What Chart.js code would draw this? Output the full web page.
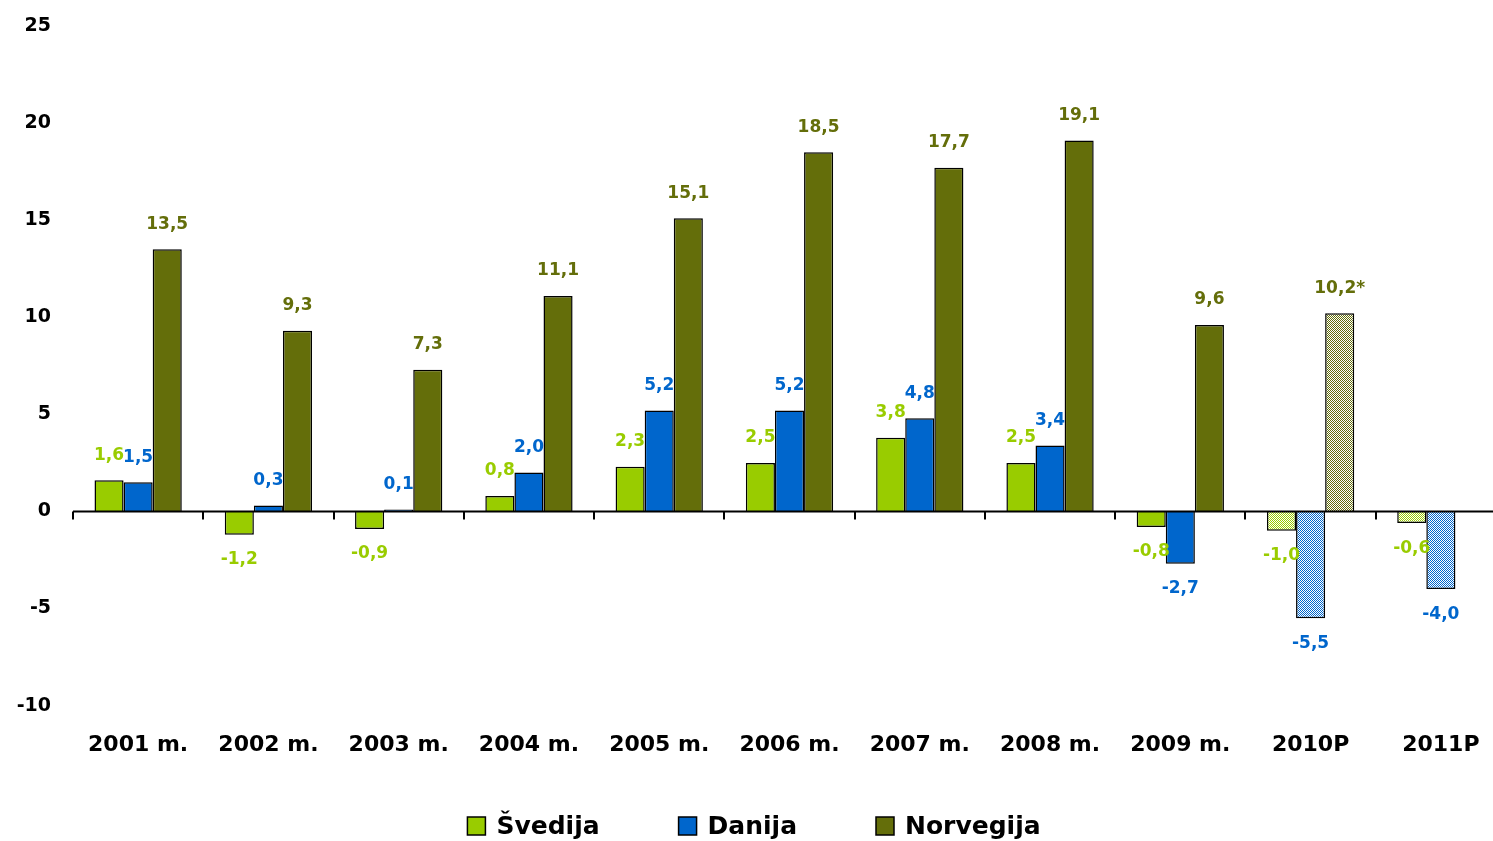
<!DOCTYPE html>
<html>
<head>
<meta charset="utf-8">
<script src="https://cdn.jsdelivr.net/npm/chart.js@4.4.0/dist/chart.umd.min.js"></script>
<style>
html,body{margin:0;padding:0;background:#fff;overflow:hidden;}
canvas{display:block;}
</style>
</head>
<body>
<canvas id="c" width="1510" height="841"></canvas>
<script>
const categories = ['2001 m.','2002 m.','2003 m.','2004 m.','2005 m.','2006 m.','2007 m.','2008 m.','2009 m.','2010P','2011P'];
const svedija   = [1.6, -1.2, -0.9, 0.8, 2.3, 2.5, 3.8, 2.5, -0.8, -1.0, -0.6];
const danija    = [1.5, 0.3, 0.1, 2.0, 5.2, 5.2, 4.8, 3.4, -2.7, -5.5, -4.0];
const norvegija = [13.5, 9.3, 7.3, 11.1, 15.1, 18.5, 17.7, 19.1, 9.6, 10.2, null];
const labelSuffix = ['', '', '', '', '', '', '', '', '', '*', ''];
const seriesNames = ['Švedija', 'Danija', 'Norvegija'];
const forecastFrom = 9;

const FONT = "'DejaVu Sans', 'Liberation Sans', Arial, sans-serif";
const colors = ['#99CC00', '#0066CC', '#646E0A'];

function hatch(color) {
  const p = document.createElement('canvas');
  p.width = 2; p.height = 2;
  const g = p.getContext('2d');
  g.fillStyle = '#ffffff'; g.fillRect(0,0,2,2);
  g.fillStyle = color; g.fillRect(0,0,1,1); g.fillRect(1,1,1,1);
  return document.getElementById('c').getContext('2d').createPattern(p, 'repeat');
}
function fills(color) {
  const h = hatch(color);
  return categories.map((_, i) => i >= forecastFrom ? h : color);
}

const dataLabels = {
  id: 'dataLabels',
  afterDatasetsDraw(chart) {
    const ctx = chart.ctx;
    ctx.save();
    ctx.font = "bold 17px " + FONT;
    ctx.textAlign = 'center';
    ctx.textBaseline = 'middle';
    chart.data.datasets.forEach((ds, di) => {
      const meta = chart.getDatasetMeta(di);
      meta.data.forEach((bar, i) => {
        const v = ds.data[i];
        if (v === null || v === undefined) return;
        const txt = v.toFixed(1).replace('.', ',') + (di === 2 ? labelSuffix[i] : '');
        const y = v >= 0 ? bar.y - 25 : bar.y + 25;
        ctx.fillStyle = colors[di];
        ctx.fillText(txt, bar.x, y);
      });
    });
    ctx.restore();
  }
};

const zeroTicks = {
  id: 'zeroTicks',
  afterDatasetsDraw(chart) {
    const ctx = chart.ctx;
    const xs = chart.scales.x, ys = chart.scales.y;
    const y0 = ys.getPixelForValue(0);
    const w = (xs.right - xs.left) / categories.length;
    ctx.save();
    ctx.strokeStyle = '#000';
    ctx.lineWidth = 2;
    ctx.beginPath();
    ctx.moveTo(xs.left, y0); ctx.lineTo(xs.right, y0);
    for (let k = 0; k <= categories.length; k++) {
      const x = Math.round(xs.left + k * w);
      ctx.moveTo(x, y0); ctx.lineTo(x, y0 + 8);
    }
    ctx.stroke();
    ctx.restore();
  }
};

const customLegend = {
  id: 'customLegend',
  afterDraw(chart) {
    const ctx = chart.ctx;
    ctx.save();
    ctx.font = "bold 25px " + FONT;
    ctx.textBaseline = 'middle';
    ctx.textAlign = 'left';
    const box = 18, gap = 11, spacing = 79;
    const widths = seriesNames.map(n => ctx.measureText(n).width);
    const total = widths.reduce((a, w) => a + box + gap + w, 0) + spacing * (seriesNames.length - 1);
    let x = 754 - total / 2;
    const cy = 826;
    seriesNames.forEach((n, i) => {
      ctx.fillStyle = colors[i];
      ctx.fillRect(x, cy - box / 2, box, box);
      ctx.strokeStyle = '#000';
      ctx.lineWidth = 1.5;
      ctx.strokeRect(x, cy - box / 2, box, box);
      ctx.fillStyle = '#000';
      ctx.fillText(n, x + box + gap, cy + 1);
      x += box + gap + widths[i] + spacing;
    });
    ctx.restore();
  }
};

new Chart(document.getElementById('c'), {
  type: 'bar',
  data: {
    labels: categories,
    datasets: [
      { label: seriesNames[0], data: svedija, backgroundColor: fills(colors[0]), borderColor: '#000', borderWidth: 1.5 },
      { label: seriesNames[1], data: danija, backgroundColor: fills(colors[1]), borderColor: '#000', borderWidth: 1.5 },
      { label: seriesNames[2], data: norvegija, backgroundColor: fills(colors[2]), borderColor: '#000', borderWidth: 1.5 }
    ]
  },
  options: {
    responsive: false,
    animation: false,
    devicePixelRatio: 1,
    layout: { padding: { top: 26, right: 4, bottom: 57, left: 0 } },
    datasets: { bar: { categoryPercentage: 0.67, barPercentage: 1.0 } },
    plugins: { legend: { display: false }, tooltip: { enabled: false } },
    scales: {
      x: {
        grid: { display: false, drawTicks: false },
        border: { display: false },
        ticks: { color: '#000', font: { family: FONT, weight: 'bold', size: 22 }, padding: 26, maxRotation: 0 }
      },
      y: {
        min: -10, max: 25,
        afterFit(s) { s.width = 73; s.paddingTop = 0; s.paddingBottom = 0; },
        grid: { display: false, drawTicks: false },
        border: { display: false },
        ticks: { stepSize: 5, color: '#000', font: { family: FONT, weight: 'bold', size: 19 }, padding: 22 }
      }
    }
  },
  plugins: [zeroTicks, dataLabels, customLegend]
});
</script>
</body>
</html>
